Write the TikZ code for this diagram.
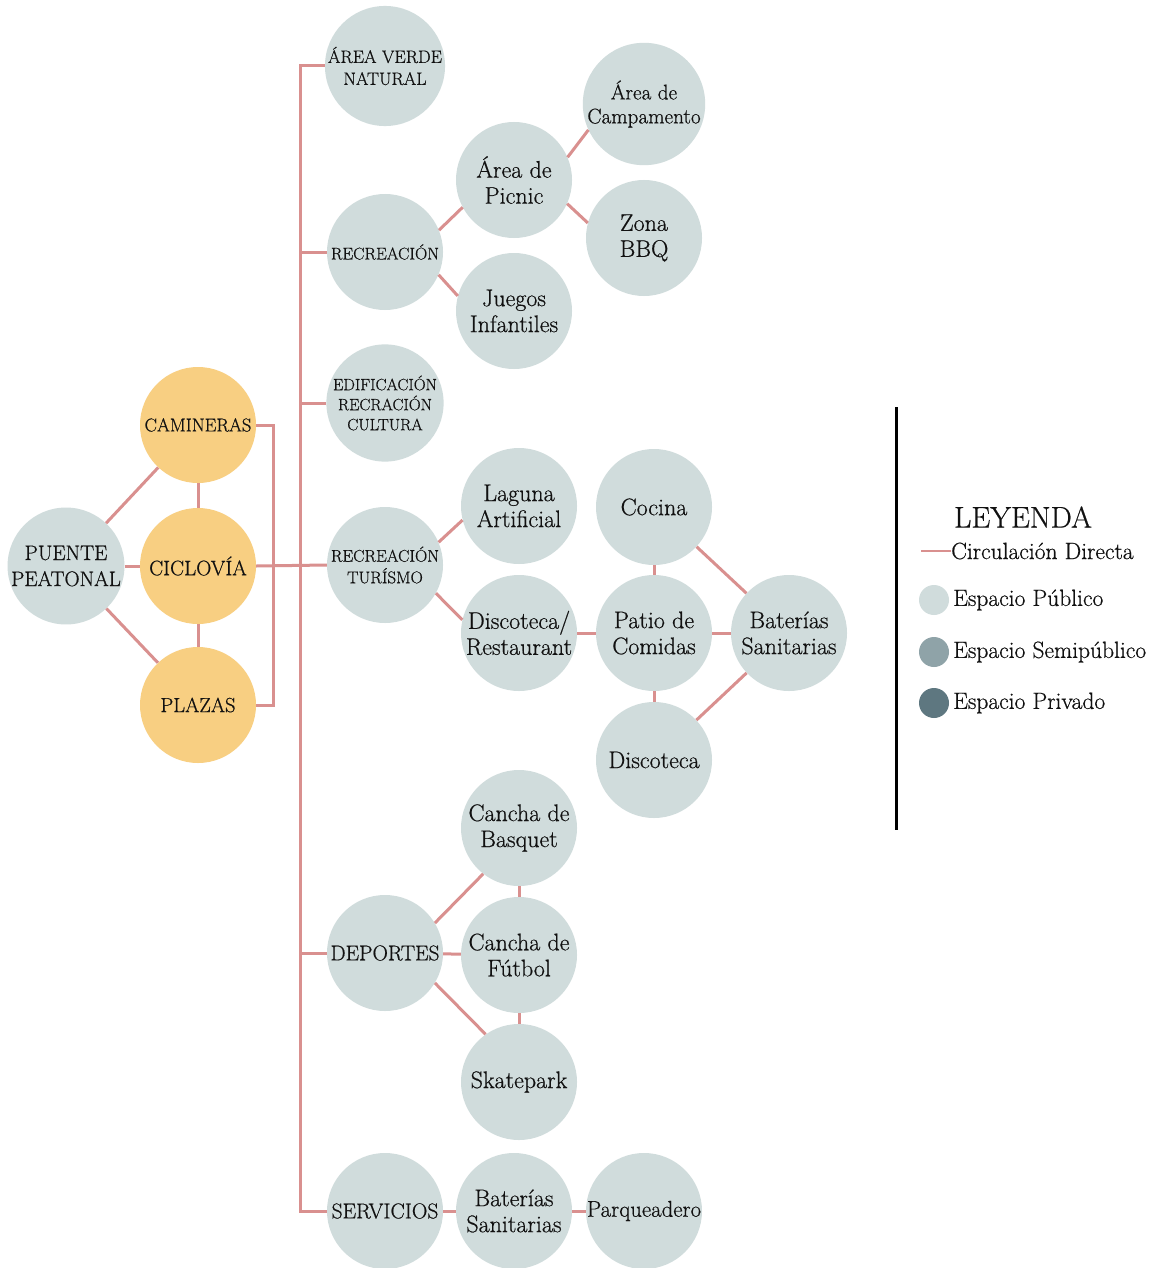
\documentclass[tikz,border=0pt]{standalone}
\usepackage{fontspec}
\setmainfont{Latin Modern Roman}[FakeBold=0.6]
\usetikzlibrary{calc}
\definecolor{pub}{HTML}{D0DCDC}
\definecolor{semi}{HTML}{8FA3A8}
\definecolor{priv}{HTML}{5E7780}
\definecolor{ora}{HTML}{F8CF82}
\definecolor{lnk}{HTML}{D9908F}
\definecolor{txt}{HTML}{111111}
\tikzset{
  bub/.style={circle,minimum size=116pt,inner sep=0pt,fill=pub,align=center,text=txt},
  obub/.style={bub,fill=ora},
  lk/.style={draw=lnk,line width=3pt},
  big/.style={font=\fontsize{24}{26}\selectfont},
  capsf/.style={font=\fontsize{17}{21.5}\selectfont},
  legt/.style={anchor=west,inner sep=0pt,font=\fontsize{23.5}{26}\selectfont,text=txt},
  legc/.style={circle,minimum size=30pt,inner sep=0pt},
}
\begin{document}
\begin{tikzpicture}[x=1pt,y=-1pt]
\useasboundingbox[fill=white] (0,0) rectangle (1160,1268);
% left group
\node[bub,font=\fontsize{21}{26}\selectfont] (pp) at (66,566) {PUENTE\\PEATONAL};
\node[obub,font=\fontsize{18.6}{22}\selectfont] (cam) at (198,425) {CAMINERAS};
\node[obub,font=\fontsize{21}{24}\selectfont] (cic) at (198,566) {CICLOV\'IA};
\node[obub,font=\fontsize{20.5}{24}\selectfont] (pla) at (198,705) {PLAZAS};
% trunk nodes
\node[bub,font=\fontsize{18}{22}\selectfont] (av) at (385,66) {\'AREA VERDE\\NATURAL};
\node[bub,capsf] (rec) at (385,252) {RECREACI\'ON};
\node[bub,font=\fontsize{16.4}{20}\selectfont] (edi) at (385,403) {EDIFICACI\'ON\\RECRACI\'ON\\CULTURA};
\node[bub,capsf] (rt) at (385,565) {RECREACI\'ON\\TUR\'ISMO};
\node[bub,font=\fontsize{21.4}{24}\selectfont] (dep) at (385,953) {DEPORTES};
\node[bub,font=\fontsize{21.5}{24}\selectfont] (ser) at (385,1211) {SERVICIOS};
% recreation
\node[bub,big] (pic) at (514,180) {\'Area de\\Picnic};
\node[bub,font=\fontsize{21.2}{24}\selectfont] (cmp) at (644,104) {\'Area de\\Campamento};
\node[bub,big] (bbq) at (644,238) {Zona\\BBQ};
\node[bub,big] (jue) at (514,311) {Juegos\\Infantiles};
% tourism
\node[bub,big] (lag) at (519,506) {Laguna\\Artificial};
\node[bub,big] (dr) at (519,633) {Discoteca/\\Restaurant};
\node[bub,big] (coc) at (654,507) {Cocina};
\node[bub,big] (pat) at (654,633) {Patio de\\Comidas};
\node[bub,big] (bat) at (789,633) {Bater\'ias\\Sanitarias};
\node[bub,big] (dis) at (654,760) {Discoteca};
% sports
\node[bub,big] (bas) at (519,828) {Cancha de\\Basquet};
\node[bub,big] (fut) at (519,955) {Cancha de\\F\'utbol};
\node[bub,big] (ska) at (519,1082) {Skatepark};
% services
\node[bub,big] (bat2) at (514,1211) {Bater\'ias\\Sanitarias};
\node[bub,font=\fontsize{22.8}{26}\selectfont] (par) at (644,1211) {Parqueadero};
% trunk coordinates
\coordinate (t1) at (300,66);
\coordinate (t2) at (300,1211);
\coordinate (br) at (273,425);
% connectors
\draw[lk] (pp) -- (cam);
\draw[lk] (pp) -- (cic);
\draw[lk] (pp) -- (pla);
\draw[lk] (cam) -- (cic);
\draw[lk] (cic) -- (pla);
\draw[lk] (cam.east) -- (br) |- (pla.east);
\draw[lk] (cic.east) -- (rt.west);
\draw[lk] (av.west) -- (t1) -- (t2) -- (ser.west);
\draw[lk] (rec.west) -- (rec.west -| t1);
\draw[lk] (edi.west) -- (edi.west -| t1);
\draw[lk] (dep.west) -- (dep.west -| t1);
\draw[lk] (rec.22) -- (pic.208);
\draw[lk] (rec.-23) -- (jue.165);
\draw[lk] (pic.23) -- (cmp.205);
\draw[lk] (pic.-24) -- (bbq.165);
\draw[lk] (rt.23) -- (lag.194);
\draw[lk] (rt.-29) -- (dr.167);
\draw[lk] (dr) -- (pat);
\draw[lk] (coc) -- (pat);
\draw[lk] (pat) -- (bat);
\draw[lk] (pat) -- (dis);
\draw[lk] (coc) -- (bat);
\draw[lk] (dis) -- (bat);
\draw[lk] (dep.31) -- (bas.232);
\draw[lk] (dep) -- (fut);
\draw[lk] (dep.-31) -- (ska.125);
\draw[lk] (bas) -- (fut);
\draw[lk] (fut) -- (ska);
\draw[lk] (ser) -- (bat2);
\draw[lk] (bat2) -- (par);
% legend
\coordinate (lt) at (896,407);
\coordinate (lb) at (896,830);
\draw[line width=3pt,black] (lt) -- (lb);
\node[font=\fontsize{30}{32}\selectfont,text=txt] (ley) at (1023,517) {LEYENDA};
\coordinate (la) at (921,551);
\node[legt] (l1) at (951,551) {Circulaci\'on Directa};
\draw[draw=lnk,line width=2pt] (la) -- (l1.west);
\node[legc,fill=pub] (c2) at (934,600) {};
\node[legt] (l2) at (953,600) {Espacio P\'ublico};
\node[legc,fill=semi] (c3) at (934,652) {};
\node[legt] (l3) at (953,652) {Espacio Semip\'ublico};
\node[legc,fill=priv] (c4) at (934,703) {};
\node[legt] (l4) at (953,703) {Espacio Privado};
\end{tikzpicture}
\end{document}
